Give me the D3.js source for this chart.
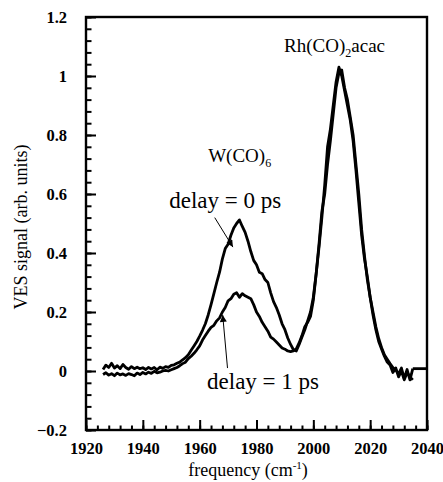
<!DOCTYPE html>
<html>
<head>
<meta charset="utf-8">
<script src="https://cdn.jsdelivr.net/npm/d3@7.9.0/dist/d3.min.js"></script>
</head>
<body style="margin:0">
<svg id="chart" width="443" height="482"></svg>
<script>
// frequency grid (cm-1) shared by both traces
const freq = [
  1926,1927,1928,1929,1930,1931,1932,1933,1934,1935,1936,1937,1938,1939,1940,
  1941,1942,1943,1944,1945,1946,1947,1948,1949,1950,1951,1952,1953,1954,1955,
  1956,1957,1958,1959,1960,1961,1962,1963,1964,1965,1966,1967,1968,1969,1970,
  1971,1972,1973,1974,1975,1976,1977,1978,1979,1980,1981,1982,1983,1984,1985,
  1986,1987,1988,1989,1990,1991,1992,1993,1994,1995,1996,1997,1998,1999,2000,
  2001,2002,2003,2004,2005,2006,2007,2008,2009,2010,2011,2012,2013,2014,2015,
  2016,2017,2018,2019,2020,2021,2022,2023,2024,2025,2026,2027,2028,2029,2030,
  2031,2032,2033,2034,2035
];

// VES signal, delay = 0 ps
const delay0 = [
  0.005,0.020,0.012,0.026,0.010,0.018,0.008,0.022,0.012,0.006,0.015,0.008,0.013,0.008,0.011,
  0.005,0.012,0.007,0.012,0.004,0.013,0.009,0.015,0.012,0.019,0.021,0.026,0.030,0.038,0.045,
  0.055,0.070,0.085,0.100,0.118,0.138,0.160,0.190,0.225,0.262,0.300,0.335,0.380,0.415,0.430,
  0.460,0.485,0.500,0.512,0.490,0.470,0.440,0.405,0.375,0.360,0.335,0.330,0.310,0.300,0.265,
  0.235,0.215,0.190,0.160,0.140,0.112,0.090,0.072,0.068,0.090,0.115,0.140,0.170,0.200,0.250,
  0.330,0.420,0.520,0.630,0.760,0.820,0.900,0.980,1.030,1.000,0.950,0.900,0.850,0.780,0.680,
  0.570,0.460,0.380,0.320,0.250,0.200,0.150,0.110,0.080,0.055,0.040,0.025,0.012,0.004,-0.010,
  0.010,-0.025,0.005,-0.030,0.008
];

// VES signal, delay = 1 ps
const delay1 = [
  -0.012,-0.006,-0.014,-0.009,-0.016,-0.007,-0.013,-0.010,-0.015,-0.009,-0.012,-0.016,-0.007,-0.012,-0.005,
  -0.010,-0.004,-0.008,-0.001,-0.006,-0.004,0.000,0.002,0.000,0.004,0.008,0.012,0.018,0.025,0.030,
  0.042,0.050,0.060,0.072,0.085,0.105,0.120,0.135,0.148,0.155,0.170,0.180,0.200,0.215,0.238,
  0.245,0.260,0.265,0.250,0.262,0.255,0.250,0.245,0.225,0.200,0.185,0.165,0.150,0.135,0.115,
  0.108,0.098,0.088,0.078,0.074,0.068,0.066,0.068,0.075,0.095,0.120,0.150,0.165,0.185,0.240,
  0.330,0.430,0.540,0.600,0.700,0.780,0.870,0.960,1.010,1.020,0.960,0.920,0.860,0.800,0.700,
  0.600,0.480,0.390,0.310,0.250,0.190,0.140,0.100,0.075,0.050,0.030,0.020,-0.005,0.010,-0.020,
  0.000,-0.030,-0.005,-0.020,-0.030
];

// flat tail drawn to the right frame
const tailFreq = [2035, 2040];
const tailVal = [0.008, 0.008];

const xMajor = [1920,1940,1960,1980,2000,2020,2040];
const yMajor = [-0.2,0,0.2,0.4,0.6,0.8,1,1.2];

const SERIF = '"Liberation Serif"';

const svg = d3.select("#chart");

const x = d3.scaleLinear().domain([1920, 2040]).range([86, 427]);
const y = d3.scaleLinear().domain([-0.2, 1.2]).range([430, 17]);

/******** traces ********/
const line = d3.line()
  .x(d => x(d[0]))
  .y(d => y(d[1]));

const series = [
  freq.map((f, i) => [f, delay0[i]]),
  freq.map((f, i) => [f, delay1[i]]),
  tailFreq.map((f, i) => [f, tailVal[i]])
];

svg.selectAll("path.trace")
  .data(series)
  .enter()
  .append("path")
  .attr("class", "trace")
  .attr("fill", "none")
  .attr("stroke", "#000")
  .attr("stroke-width", 2.8)
  .attr("stroke-linejoin", "round")
  .attr("d", line);

/******** axes (ticks point inward) ********/
const minorX = d3.range(1920, 2041, 4);
const minorY = d3.range(-0.2, 1.201, 0.04);

function styleAxis(g) {
  g.attr("font-family", null).attr("font-size", null);
  g.select(".domain").remove();
  g.selectAll(".tick line").attr("stroke", "#000").attr("stroke-width", 2);
  g.selectAll(".tick text")
    .attr("fill", "#000")
    .style("font-family", SERIF)
    .style("font-size", "16.5px")
    .style("font-weight", "bold");
}

svg.append("g")
  .attr("transform", `translate(0,${y(-0.2)})`)
  .call(d3.axisBottom(x).tickValues(minorX).tickSize(-4.5).tickFormat(""))
  .call(styleAxis);

svg.append("g")
  .attr("transform", `translate(0,${y(-0.2)})`)
  .call(d3.axisBottom(x).tickValues(xMajor).tickSize(-10).tickPadding(12).tickFormat(d3.format("d")))
  .call(styleAxis);

svg.append("g")
  .attr("transform", `translate(${x(1920)},0)`)
  .call(d3.axisLeft(y).tickValues(minorY).tickSize(-5.5).tickFormat(""))
  .call(styleAxis);

svg.append("g")
  .attr("transform", `translate(${x(1920)},0)`)
  .call(d3.axisLeft(y).tickValues(yMajor).tickSize(-10).tickPadding(19).tickFormat(d => d3.format("")(+d.toFixed(1))))
  .call(styleAxis);

// frame
svg.append("rect")
  .attr("x", x(1920))
  .attr("y", y(1.2))
  .attr("width", x(2040) - x(1920))
  .attr("height", y(-0.2) - y(1.2))
  .attr("fill", "none")
  .attr("stroke", "#000")
  .attr("stroke-width", 2.4);

/******** axis titles ********/
const xTitle = svg.append("text")
  .attr("x", 248)
  .attr("y", 476)
  .attr("text-anchor", "middle")
  .style("font-family", SERIF)
  .style("font-size", "18px")
  .text("frequency (cm");
xTitle.append("tspan").attr("dy", -7).style("font-size", "11px").text("-1");
xTitle.append("tspan").attr("dy", 7).text(")");

svg.append("text")
  .attr("transform", "translate(27,227) rotate(-90)")
  .attr("text-anchor", "middle")
  .style("font-family", SERIF)
  .style("font-size", "18px")
  .text("VES signal (arb. units)");

/******** annotations ********/
const rh = svg.append("text")
  .attr("x", x(1989.7))
  .attr("y", y(1.08))
  .style("font-family", SERIF)
  .style("font-size", "19px")
  .text("Rh(CO)");
rh.append("tspan").attr("dy", 5).style("font-size", "12px").text("2");
rh.append("tspan").attr("dy", -5).text("acac");

const w = svg.append("text")
  .attr("x", x(1963))
  .attr("y", y(0.71))
  .style("font-family", SERIF)
  .style("font-size", "19px")
  .text("W(CO)");
w.append("tspan").attr("dy", 5).style("font-size", "12px").text("6");

svg.append("text")
  .attr("x", x(1949.3))
  .attr("y", y(0.553))
  .style("font-family", SERIF)
  .style("font-size", "23px")
  .text("delay = 0 ps");

svg.append("text")
  .attr("x", x(1962.6))
  .attr("y", y(-0.06))
  .style("font-family", SERIF)
  .style("font-size", "23px")
  .text("delay = 1 ps");

// arrows
svg.append("defs").append("marker")
  .attr("id", "head")
  .attr("viewBox", "0 0 10 10")
  .attr("refX", 10)
  .attr("refY", 5)
  .attr("markerWidth", 9)
  .attr("markerHeight", 7)
  .attr("markerUnits", "userSpaceOnUse")
  .attr("orient", "auto")
  .append("path")
  .attr("d", "M0,0L10,5L0,10z")
  .attr("fill", "#000");

const arrows = [
  { x1: 1965.3, y1: 0.52, x2: 1971.7, y2: 0.42 },
  { x1: 1969.8, y1: 0.01, x2: 1968.1, y2: 0.19 }
];

svg.selectAll("line.arrow")
  .data(arrows)
  .enter()
  .append("line")
  .attr("class", "arrow")
  .attr("x1", d => x(d.x1))
  .attr("y1", d => y(d.y1))
  .attr("x2", d => x(d.x2))
  .attr("y2", d => y(d.y2))
  .attr("stroke", "#000")
  .attr("stroke-width", 1)
  .attr("marker-end", "url(#head)");
</script>
</body>
</html>
